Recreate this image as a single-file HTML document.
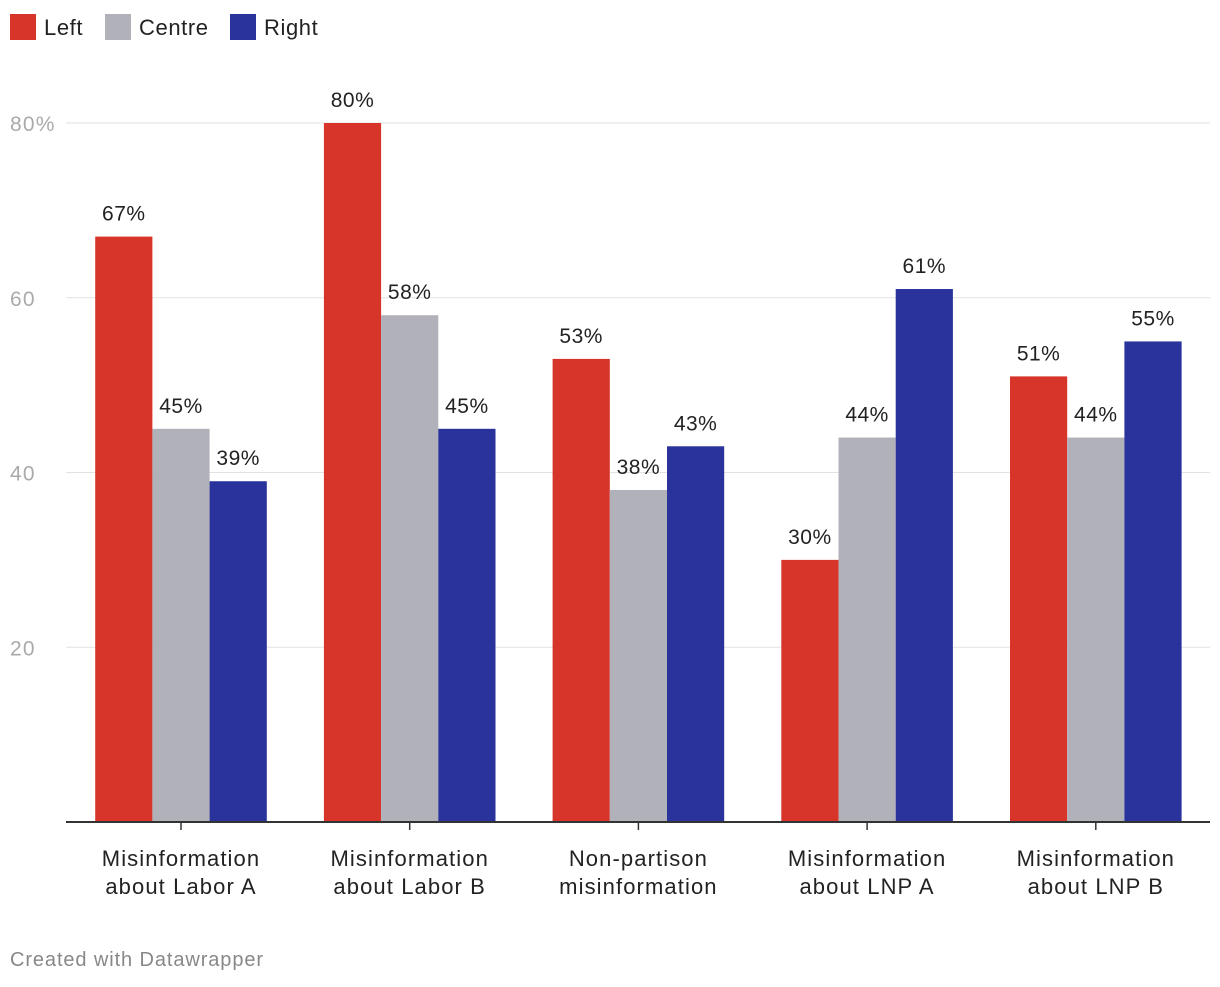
<!DOCTYPE html>
<html><head><meta charset="utf-8"><style>
body{margin:0;background:#fff;font-family:"Liberation Sans",Arial,sans-serif}
#c{position:relative;width:1220px;height:982px}
</style></head><body>
<div id="c">
<svg id="s" width="1220" height="982" xmlns="http://www.w3.org/2000/svg"></svg>
</div>
<script>
const categories=[["Misinformation","about Labor A"],["Misinformation","about Labor B"],["Non-partison","misinformation"],["Misinformation","about LNP A"],["Misinformation","about LNP B"]];
const seriesNames=["Left","Centre","Right"];
const leftValues=[67,80,53,30,51];
const centreValues=[45,58,38,44,44];
const rightValues=[39,45,43,61,55];
const yTicks=[20,40,60,80];
const yTickLabels=["20","40","60","80%"];
const colors=["#d73529","#b1b1b9","#29339b"];
const series=[leftValues,centreValues,rightValues];
const svg=document.getElementById('s');const NS="http://www.w3.org/2000/svg";
function y(v){return 822-v*(699/80);}
const x0=66,x1=1210,bw=57.2;
function cx(i){return 181+i*228.7;}
function el(t,a,txt){const e=document.createElementNS(NS,t);for(const k in a)e.setAttribute(k,a[k]);if(txt!=null)e.textContent=txt;svg.appendChild(e);return e;}
let lx=10;
seriesNames.forEach((n,i)=>{
 const r=el('rect',{x:lx,y:14,width:26,height:26,fill:colors[i]});
 
 
 const t=el('text',{x:lx+34,y:35,'font-size':22,fill:'#222','letter-spacing':0.6},n);
 
 
 lx+= [95,125,0][i];
});
yTicks.forEach((v,i)=>{
 const g=el('line',{x1:x0,x2:x1,y1:y(v),y2:y(v),stroke:'#e2e2e2','stroke-width':1});
 
 
 const t=el('text',{x:10,y:y(v)+8,'font-size':21,fill:'#aaa','letter-spacing':1.2},yTickLabels[i]);
 
 
});
categories.forEach((c,i)=>{
 series.forEach((s,j)=>{
  const bx=cx(i)-1.5*bw+j*bw;
  const b=el('rect',{x:bx,y:y(s[i]),width:bw,height:822-y(s[i]),fill:colors[j]});
  
  
  const t=el('text',{x:bx+bw/2,y:y(s[i])-16,'font-size':21,fill:'#222','text-anchor':'middle','letter-spacing':0.5},s[i]+'%');
  
  
 });
 const tk=el('line',{x1:cx(i),x2:cx(i),y1:822,y2:830,stroke:'#333','stroke-width':1.5});
 
 
 c.forEach((ln,k)=>{
  const t=el('text',{x:cx(i),y:866+k*28,'font-size':22,fill:'#222','text-anchor':'middle','letter-spacing':1.1},ln);
  
  
 });
});
const ax=el('line',{x1:x0,x2:x1,y1:822,y2:822,stroke:'#333','stroke-width':2});


const f=el('text',{x:10,y:966,'font-size':20,fill:'#888','letter-spacing':0.9},'Created with Datawrapper');


</script>
</body></html>
